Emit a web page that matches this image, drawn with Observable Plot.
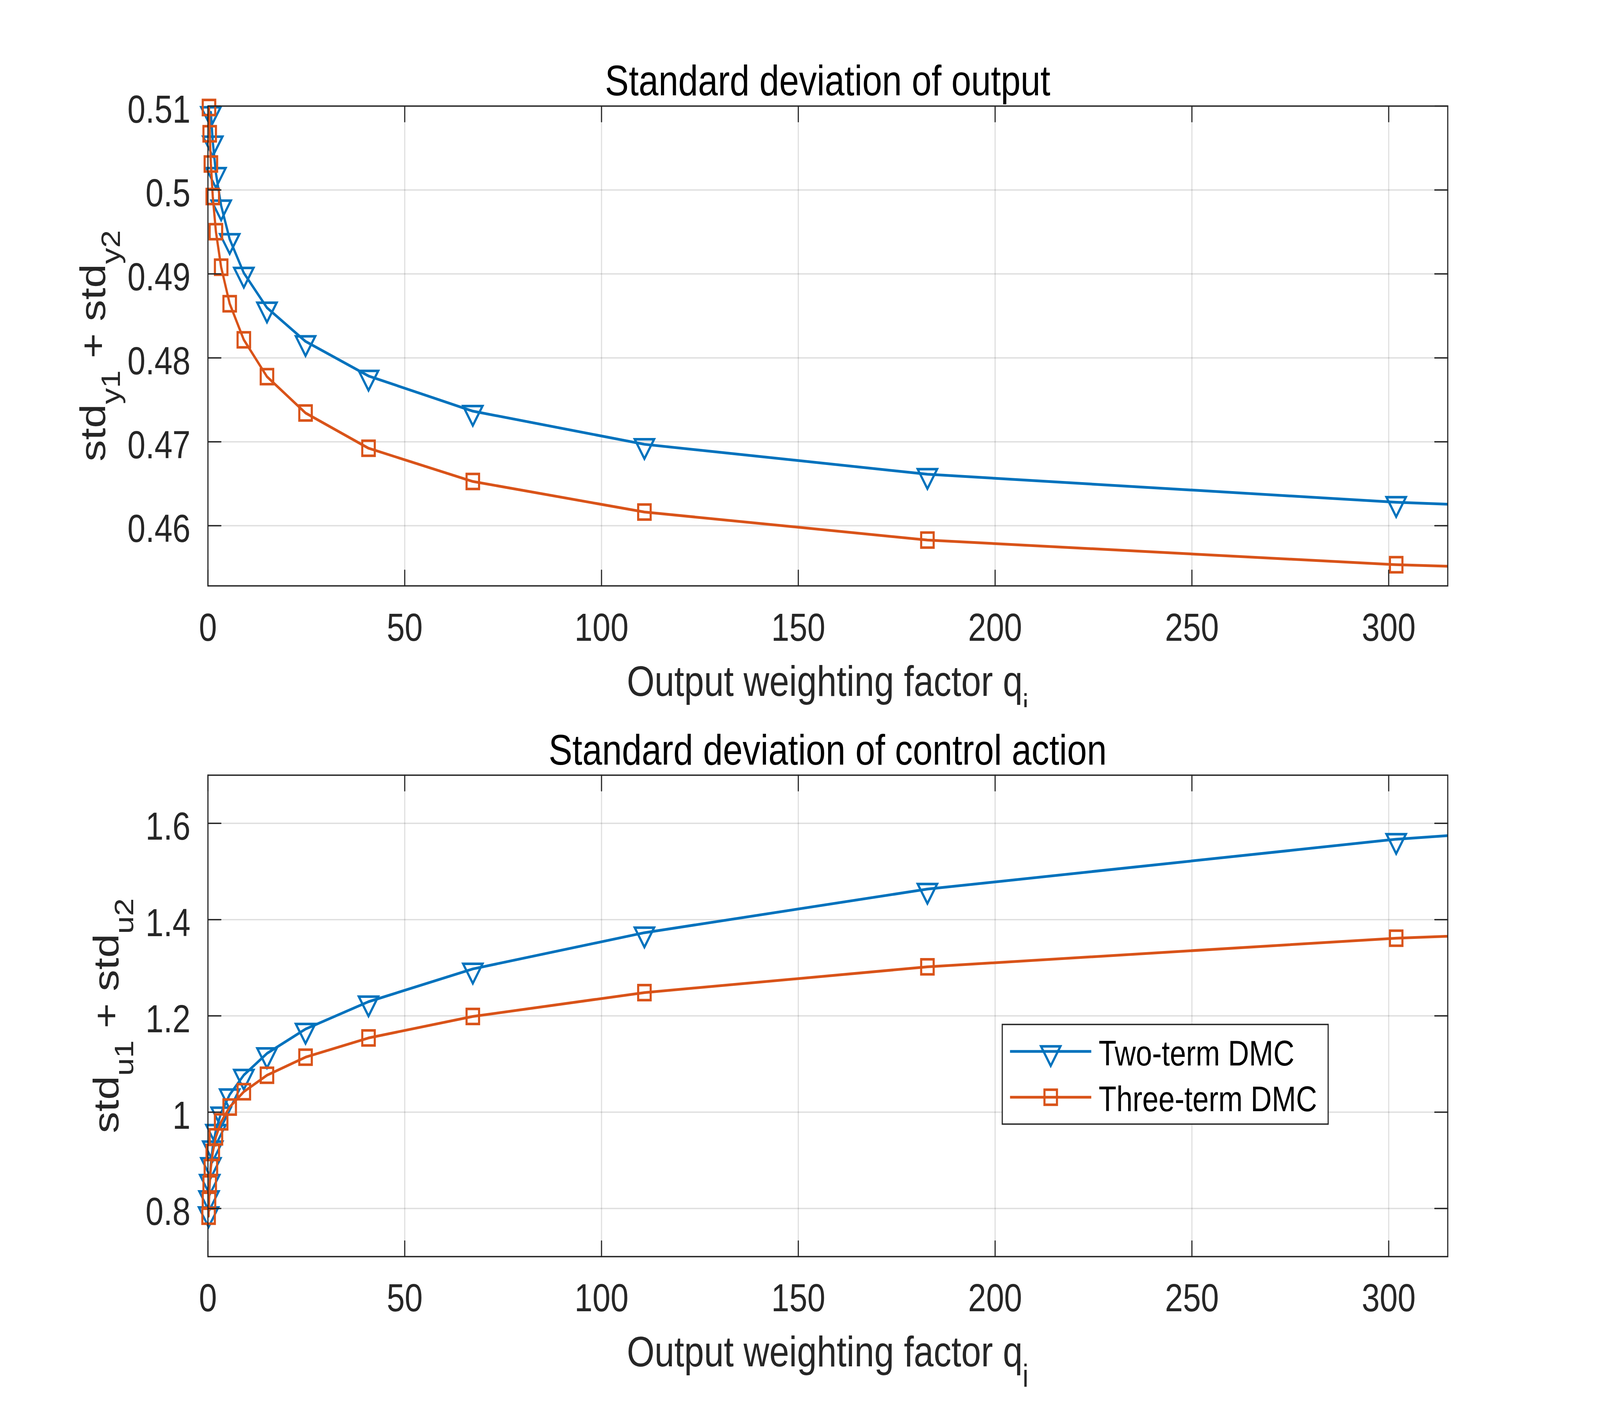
<!DOCTYPE html>
<html>
<head>
<meta charset="utf-8">
<script src="https://cdn.jsdelivr.net/npm/d3@7"></script>
<script src="https://cdn.jsdelivr.net/npm/@observablehq/plot@0.6"></script>
<style>
html, body { margin: 0; padding: 0; background: #fff; overflow: hidden; }
#chart { position: absolute; left: 0; top: 0; width: 4944px; height: 3619px; background: #fff; transform-origin: 0 0; }
#chart svg { position: absolute; left: 0; display: block; width: 4944px !important; max-width: none !important; }
</style>
</head>
<body>
<div id="chart"></div>
<script>
// ---- data ----
const q = [0.17, 0.27, 0.45, 0.75, 1.23, 2.03, 3.36, 5.53, 9.12, 15.0, 24.8, 40.8, 67.3, 110.9, 182.8, 301.9, 497.8];

// top panel: std_y1 + std_y2 (points above the axis top are not visible in the reference)
const stdYTwoTerm   = [null, null, null, 0.50926, 0.50575, 0.50200, 0.49813, 0.49413, 0.49011, 0.48597, 0.48196, 0.47784, 0.47365, 0.46970, 0.46613, 0.46279, 0.4593];
const stdYThreeTerm = [null, 0.50983, 0.50670, 0.50310, 0.49922, 0.49503, 0.49080, 0.48645, 0.48215, 0.47776, 0.47343, 0.46923, 0.46527, 0.46163, 0.45829, 0.45535, 0.4527];

// bottom panel: std_u1 + std_u2
const stdUTwoTerm   = [0.7916, 0.8249, 0.8589, 0.8937, 0.9284, 0.9626, 0.9988, 1.0365, 1.0771, 1.1220, 1.1727, 1.2295, 1.2976, 1.3728, 1.4634, 1.5670, 1.677];
const stdUThreeTerm = [0.784, 0.817, 0.851, 0.885, 0.9165, 0.9488, 0.980, 1.0107, 1.0425, 1.0767, 1.1143, 1.1542, 1.1989, 1.2484, 1.3019, 1.3614, 1.422];

const seriesNames = ["Two-term DMC", "Three-term DMC"];
const xTicks = [0, 50, 100, 150, 200, 250, 300];
const yTicksTop = [0.46, 0.47, 0.48, 0.49, 0.5, 0.51];
const yTicksBottom = [0.8, 1, 1.2, 1.4, 1.6];
const xDomain = [0, 315];
const yDomainTop = [0.45283, 0.51];
const yDomainBottom = [0.7, 1.7];
const titles = ["Standard deviation of output", "Standard deviation of control action"];
const xLabelMain = "Output weighting factor q";
const xLabelSub = "i";

// ---- styles ----
const colors = ["#0072BD", "#D95319"];
const axisColor = "#262626";
const FONT = "'Liberation Sans', Arial, Helvetica, sans-serif";

const triDown = { draw(ctx) { ctx.moveTo(-30, -13); ctx.lineTo(30, -13); ctx.lineTo(0, 37); ctx.closePath(); } };
const squareSym = { draw(ctx) { ctx.rect(-19.3, -19.3, 38.6, 38.6); } };
const symbols = [triDown, squareSym];
const tickShape = { draw(ctx, l) { ctx.moveTo(0, 0); ctx.lineTo(0, -l); } };

function panel(o) {
  const series = [o.two, o.three].map((vals, s) => q.map((x, i) => ({ q: x, v: vals[i], s })));
  const visible = r => r.v != null && r.q <= xDomain[1] && r.v >= o.yDomain[0] && r.v <= o.yDomain[1];
  const tk = { stroke: axisColor, strokeWidth: 3.5, length: 40, anchor: "start", shape: tickShape };
  const gridStyle = { stroke: axisColor, strokeOpacity: 0.15, strokeWidth: 3.5 };

  const dataMarks = [];
  series.forEach((rows, s) => {
    dataMarks.push(Plot.line(rows, { x: "q", y: "v", stroke: colors[s], strokeWidth: 7, clip: true }));
    dataMarks.push(Plot.dot(rows.filter(visible), { x: "q", y: "v", symbol: symbols[s], stroke: colors[s], strokeWidth: 6.5, fill: "none", strokeLinejoin: "miter" }));
  });

  const svg = Plot.plot({
    width: 4944,
    height: o.height,
    marginTop: o.mt,
    marginBottom: o.mb,
    marginLeft: 642,
    marginRight: 471,
    style: { fontFamily: FONT, color: axisColor, background: "#fff", overflow: "visible" },
    x: { domain: xDomain },
    y: { domain: o.yDomain },
    marks: [
      Plot.gridX(xTicks, gridStyle),
      Plot.gridY(o.yTicks, gridStyle),
      ...dataMarks,
      Plot.frame({ stroke: axisColor, strokeWidth: 3.5 }),
      Plot.vector(xTicks, { x: d => d, frameAnchor: "bottom", rotate: 0, ...tk }),
      Plot.vector(xTicks, { x: d => d, frameAnchor: "top", rotate: 180, ...tk }),
      Plot.vector(o.yTicks, { y: d => d, frameAnchor: "left", rotate: 90, ...tk }),
      Plot.vector(o.yTicks, { y: d => d, frameAnchor: "right", rotate: 270, ...tk }),
      Plot.axisX(xTicks, { anchor: "bottom", tickSize: 0, tickPadding: 69, fontSize: 100, label: null, tickFormat: d => String(d), fill: axisColor }),
      Plot.axisY(o.yTicks, { anchor: "left", tickSize: 0, tickPadding: 54, fontSize: 100, label: null, tickFormat: d => String(d), dy: 10, fill: axisColor })
    ]
  });

  const s = d3.select(svg);
  s.append("text").attr("x", 2557.5).attr("y", o.titleY).attr("text-anchor", "middle")
    .attr("font-family", FONT).attr("font-size", 110).attr("fill", "#000").text(o.title);

  const xl = s.append("text").attr("x", 2557.5).attr("y", o.xlabelY).attr("text-anchor", "middle")
    .attr("font-family", FONT).attr("font-size", 110).attr("fill", axisColor);
  xl.append("tspan").text(xLabelMain);
  xl.append("tspan").attr("dy", 52).attr("font-size", 82).text(xLabelSub);

  const yl = s.append("text").attr("transform", `translate(${o.ylabelX},${o.ylabelY}) rotate(-90)`)
    .attr("text-anchor", "middle").attr("font-family", FONT).attr("font-size", 110).attr("fill", axisColor)
    .style("white-space", "pre");
  yl.append("tspan").text("std");
  yl.append("tspan").attr("dy", 45).attr("font-size", 82).text(o.sub1);
  yl.append("tspan").attr("dy", -45).text(" + std");
  yl.append("tspan").attr("dy", 45).attr("font-size", 82).text(o.sub2);

  if (o.legend) {
    const L = o.legend;
    const g = s.append("g").attr("text-anchor", "start");
    g.append("rect").attr("x", L.x0).attr("y", L.y0).attr("width", L.x1 - L.x0).attr("height", L.y1 - L.y0)
      .attr("fill", "#fff").attr("stroke", axisColor).attr("stroke-width", 3.5);
    seriesNames.forEach((name, i) => {
      const cy = L.rows[i];
      g.append("line").attr("x1", L.lx0).attr("x2", L.lx1).attr("y1", cy).attr("y2", cy)
        .attr("stroke", colors[i]).attr("stroke-width", 7);
      const p = d3.path(); symbols[i].draw(p);
      g.append("path").attr("d", p.toString()).attr("transform", `translate(${L.mx},${cy})`)
        .attr("fill", "none").attr("stroke", colors[i]).attr("stroke-width", 6.5).attr("stroke-linejoin", "miter");
      g.append("text").attr("x", L.tx).attr("y", cy + 36).attr("text-anchor", "start")
        .attr("font-family", FONT).attr("font-size", 90).attr("fill", "#000").text(name);
    });
  }
  return svg;
}

const chartEl = document.getElementById("chart");

const topPanel = panel({
  height: 1810, mt: 271, mb: 311,
  yDomain: yDomainTop, yTicks: yTicksTop,
  two: stdYTwoTerm, three: stdYThreeTerm,
  title: titles[0], titleY: 244, xlabelY: 1781,
  ylabelX: 325, ylabelY: 885, sub1: "y1", sub2: "y2"
});
topPanel.style.top = "0px";
chartEl.appendChild(topPanel);

const bottomPanel = panel({
  height: 1809, mt: 173.5, mb: 403.3,
  yDomain: yDomainBottom, yTicks: yTicksBottom,
  two: stdUTwoTerm, three: stdUThreeTerm,
  title: titles[1], titleY: 146.7, xlabelY: 1687.4,
  ylabelX: 366, ylabelY: 789.6, sub1: "u1", sub2: "u2",
  legend: { x0: 3097, x1: 4104, y0: 812, y1: 1067, rows: [881, 998.3], lx0: 3121, lx1: 3372, mx: 3246.7, tx: 3394.7 }
});
bottomPanel.style.top = "1810px";
chartEl.appendChild(bottomPanel);

// the browser may clamp the viewport (e.g. to 4096 wide); fit the 4944x3619 layout to the window
function fit() {
  const sx = window.innerWidth / 4944, sy = window.innerHeight / 3619;
  chartEl.style.transform = `scale(${sx}, ${sy})`;
}
fit();
window.addEventListener("resize", fit);
</script>
</body>
</html>
